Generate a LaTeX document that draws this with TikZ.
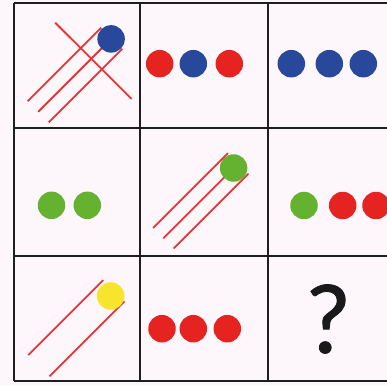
\documentclass[tikz,border=0pt]{standalone}
\usepackage{fontspec}
\newfontfamily\qfont[FakeBold=0.8]{Carlito}
\definecolor{bgc}{RGB}{253,247,251}
\definecolor{gridc}{RGB}{30,30,30}
\definecolor{dred}{RGB}{229,36,33}
\definecolor{lred}{RGB}{232,52,56}
\definecolor{dblue}{RGB}{40,72,156}
\definecolor{dgreen}{RGB}{100,178,48}
\definecolor{dyellow}{RGB}{246,229,44}
\tikzset{
  dot/.style={circle, inner sep=0pt, minimum size=27.5pt, draw=none},
  trail/.style={draw=lred, line width=1.8pt},
  gridline/.style={draw=gridc, line width=2pt}
}
\begin{document}
\begin{tikzpicture}[x=1pt, y=-1pt]
\useasboundingbox (0,0) rectangle (387,385);
\fill[bgc] (0,0) rectangle (387,385);
\clip (0,0) rectangle (387,385);
% grid
\draw[gridline] (14,3) -- (14,380.7);
\draw[gridline] (140,3) -- (140,380.7);
\draw[gridline] (268.3,3) -- (268.3,380.7);
\draw[gridline] (14,3) -- (400,3);
\draw[gridline] (14,127.7) -- (400,127.7);
\draw[gridline] (14,256.3) -- (400,256.3);
\draw[gridline] (14,380.7) -- (400,380.7);
% cell 1,1
\draw[trail] (27.6,101.2) -- (101.2,27.6);
\draw[trail] (38.2,111.8) -- (111.8,38.2);
\draw[trail] (48.8,122.4) -- (122.4,48.8);
\draw[trail] (55.2,22.7) -- (131.6,99);
\node[dot, fill=dblue] (b11) at (111.1,38.9) {};
% cell 1,2
\node[dot, fill=dred] (r12a) at (159.7,63.7) {};
\node[dot, fill=dblue] (b12) at (193.3,63.7) {};
\node[dot, fill=dred] (r12b) at (229.3,63.7) {};
% cell 1,3
\node[dot, fill=dblue] (b13a) at (291.3,63.7) {};
\node[dot, fill=dblue] (b13b) at (329.3,63.7) {};
\node[dot, fill=dblue] (b13c) at (363.3,63.7) {};
% cell 2,1
\node[dot, fill=dgreen] (g21a) at (51.5,205.3) {};
\node[dot, fill=dgreen] (g21b) at (87.3,205.3) {};
% cell 2,2
\draw[trail] (153.1,228.0) -- (228.0,153.1);
\draw[trail] (163.3,238.3) -- (238.3,163.3);
\draw[trail] (173.6,248.5) -- (248.5,173.6);
\node[dot, fill=dgreen] (g22) at (233.6,168.0) {};
% cell 2,3
\node[dot, fill=dgreen] (g23) at (304,205.5) {};
\node[dot, fill=dred] (r23a) at (342.7,205.5) {};
\node[dot, fill=dred] (r23b) at (376,205.5) {};
% cell 3,1
\draw[trail] (28.3,355.1) -- (103.3,280.1);
\draw[trail] (49.5,376.3) -- (124.5,301.3);
\node[dot, fill=dyellow] (y31) at (110.7,296.0) {};
% cell 3,2
\node[dot, fill=dred] (r32a) at (162,328.7) {};
\node[dot, fill=dred] (r32b) at (193.3,328.7) {};
\node[dot, fill=dred] (r32c) at (227.3,328.7) {};
% cell 3,3
\node[inner sep=0pt, text=black!90] (q) at (328,319) {\fontsize{100}{100}\selectfont\qfont ?};
\end{tikzpicture}
\end{document}
